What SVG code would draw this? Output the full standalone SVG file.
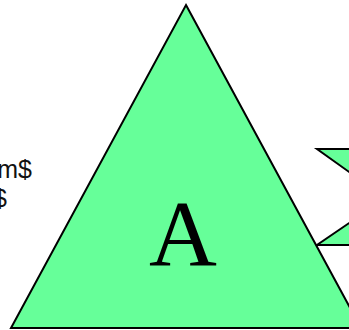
<svg xmlns="http://www.w3.org/2000/svg" width="349" height="330" viewBox="0 0 349 330">
<style>
.sh{fill:#66ff99;stroke:#000;stroke-width:2;stroke-linejoin:miter}
.lbl{font-family:"Liberation Sans",Arial,sans-serif;font-size:25px;fill:#111}
.big{font-family:"Liberation Serif","Times New Roman",serif;font-size:94px;fill:#000}
</style>
<rect width="349" height="330" fill="#fff"/>
<g id="left-label">
<text class="lbl" x="32" y="178" text-anchor="end">m$</text>
<text class="lbl" x="7" y="207" text-anchor="end">$</text>
</g>
<g id="tri-top-right"><polygon class="sh" points="317,149 380,149 380,194"/></g>
<g id="tri-bottom-right"><polygon class="sh" points="317,245 380,245 380,202"/></g>
<g id="node-A">
<polygon class="sh" points="186,5 361,328 11,328"/>
<text class="big" x="183" y="265" text-anchor="middle">A</text>
</g>
<g id="connectors"/>
</svg>
